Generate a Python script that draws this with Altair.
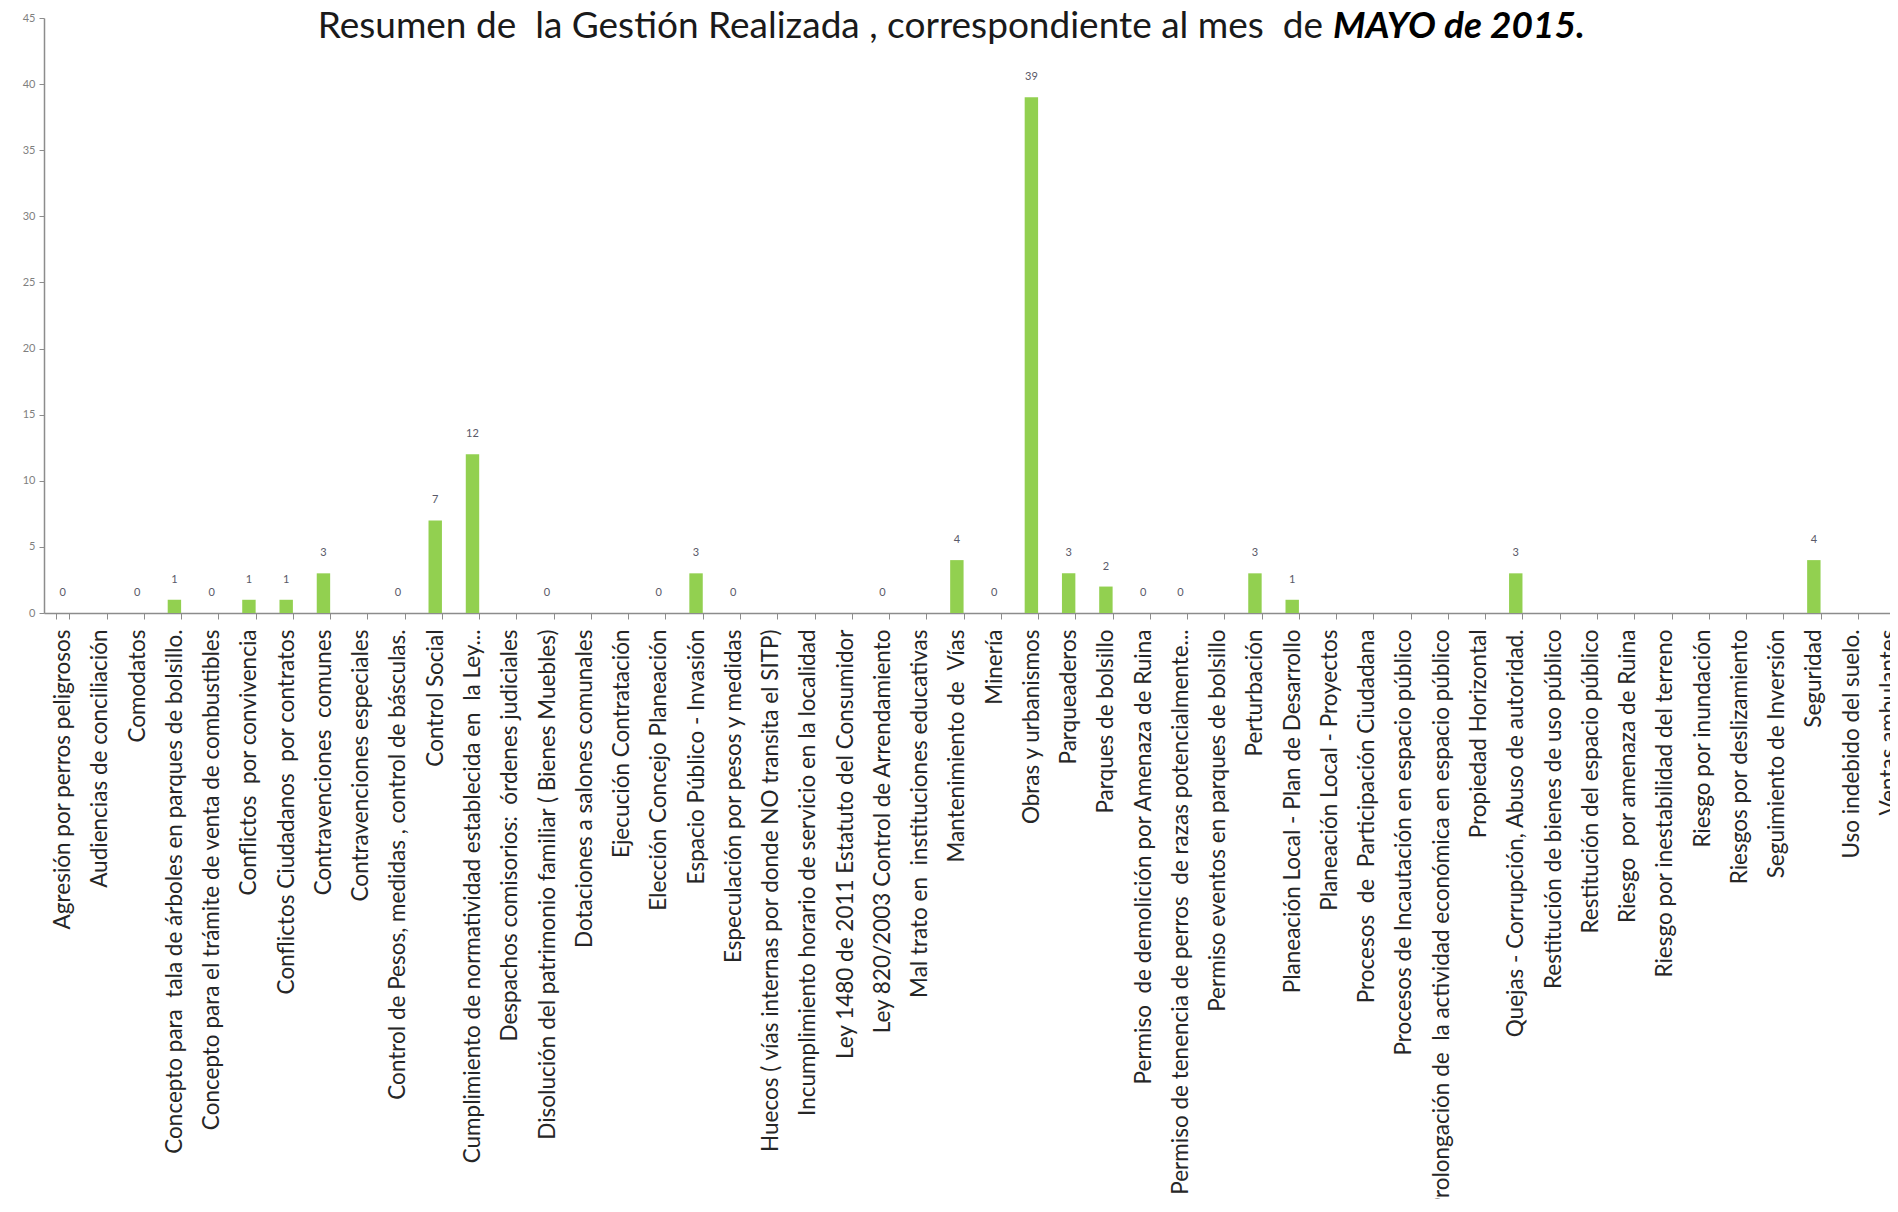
import altair as alt
import pandas as pd

categories = [
    "Agresión por perros peligrosos",
    "Audiencias de conciliación",
    "Comodatos",
    "Concepto para  tala de árboles en parques de bolsillo.",
    "Concepto para el trámite de venta de combustibles",
    "Conflictos  por convivencia",
    "Conflictos Ciudadanos  por contratos",
    "Contravenciones  comunes",
    "Contravenciones especiales",
    "Control de Pesos, medidas , control de básculas.",
    "Control Social",
    "Cumplimiento de normatividad establecida en  la Ley...",
    "Despachos comisorios:  órdenes judiciales",
    "Disolución del patrimonio familiar ( Bienes Muebles)",
    "Dotaciones a salones comunales",
    "Ejecución Contratación",
    "Elección Concejo Planeación",
    "Espacio Público - Invasión",
    "Especulación por pesos y medidas",
    "Huecos ( vías internas por donde NO transita el SITP)",
    "Incumplimiento horario de servicio en la localidad",
    "Ley 1480 de 2011 Estatuto del Consumidor",
    "Ley 820/2003 Control de Arrendamiento",
    "Mal trato en  instituciones educativas",
    "Mantenimiento de  Vías",
    "Minería",
    "Obras y urbanismos",
    "Parqueaderos",
    "Parques de bolsillo",
    "Permiso  de demolición por Amenaza de Ruina",
    "Permiso de tenencia de perros  de razas potencialmente...",
    "Permiso eventos en parques de bolsillo",
    "Perturbación",
    "Planeación Local - Plan de Desarrollo",
    "Planeación Local - Proyectos",
    "Procesos  de  Participación Ciudadana",
    "Procesos de Incautación en espacio público",
    "Prolongación de  la actividad económica en espacio público",
    "Propiedad Horizontal",
    "Quejas - Corrupción, Abuso de autoridad.",
    "Restitución de bienes de uso público",
    "Restitución del espacio público",
    "Riesgo  por amenaza de Ruina",
    "Riesgo por inestabilidad del terreno",
    "Riesgo por inundación",
    "Riesgos por deslizamiento",
    "Seguimiento de Inversión",
    "Seguridad",
    "Uso indebido del suelo.",
    "Ventas ambulantes",
]

values = [
    0, None, 0, 1, 0, 1, 1, 3, None, 0,
    7, 12, None, 0, None, None, 0, 3, 0, None,
    None, None, 0, None, 4, 0, 39, 3, 2, 0,
    0, None, 3, 1, None, None, None, None, None, 3,
    None, None, None, None, None, None, None, 4, None, None,
]

y_ticks = [0, 5, 10, 15, 20, 25, 30, 35, 40, 45]

title_plain = "Resumen de  la Gestión Realizada , correspondiente al mes  de"
title_bold = "MAYO de 2015."


def keep_spaces(s):
    # keep the double spaces of the original text visible in SVG
    return s.replace("  ", "\u00a0 ")


cats_shown = [keep_spaces(c) for c in categories]
df = pd.DataFrame({"cat": cats_shown, "val": values})

FONT = "Lato"

x_scale = alt.Scale(domain=cats_shown, paddingInner=0.64, paddingOuter=0.32)

x_enc = alt.X(
    "cat:N",
    sort=None,
    title=None,
    scale=x_scale,
    axis=alt.Axis(
        labelAngle=-90,
        labelFontSize=22.5,
        labelColor="#262626",
        labelFont=FONT,
        labelLimit=2000,
        labelPadding=10,
        tickBand="extent",
        tickSize=6,
        tickColor="#8c8c8c",
        domainColor="#8c8c8c",
        domainWidth=1.5,
        labelOverlap=False,
    ),
)
y_enc = alt.Y(
    "val:Q",
    title=None,
    scale=alt.Scale(domain=[0, 45], nice=False),
    axis=alt.Axis(
        values=y_ticks,
        labelFontSize=11,
        labelColor="#7f7f7f",
        labelFont=FONT,
        tickSize=5,
        tickColor="#8c8c8c",
        domainColor="#8c8c8c",
        domainWidth=1.5,
        grid=False,
        labelPadding=4,
    ),
)

base = alt.Chart(df)

bars = base.mark_bar(color="#92D050").encode(x=x_enc, y=y_enc)

labels = base.transform_filter("datum.val != null").mark_text(
    baseline="middle", dy=-20, fontSize=11, color="#595968", font=FONT
).encode(x=alt.X("cat:N", sort=None, scale=x_scale), y="val:Q", text="val:Q")

t1 = alt.Chart(pd.DataFrame({"t": [keep_spaces(title_plain)]})).mark_text(
    align="right", baseline="middle", fontSize=37, font=FONT, color="#1a1a1a"
).encode(x=alt.value(1279), y=alt.value(9), text="t:N")

t2 = alt.Chart(pd.DataFrame({"t": [title_bold]})).mark_text(
    align="left", baseline="middle", fontSize=37, font=FONT, color="#000000",
    fontWeight="bold", fontStyle="italic"
).encode(x=alt.value(1289), y=alt.value(9), text="t:N")

chart = alt.layer(bars, labels, t1, t2).properties(
    width=1863,
    height=595,
    autosize=alt.AutoSizeParams(type="none"),
    padding={"left": 36, "top": 10, "right": -17, "bottom": 586},
).configure_view(stroke=None)

chart.save("out.html", embed_options={"renderer": "svg", "actions": False})
